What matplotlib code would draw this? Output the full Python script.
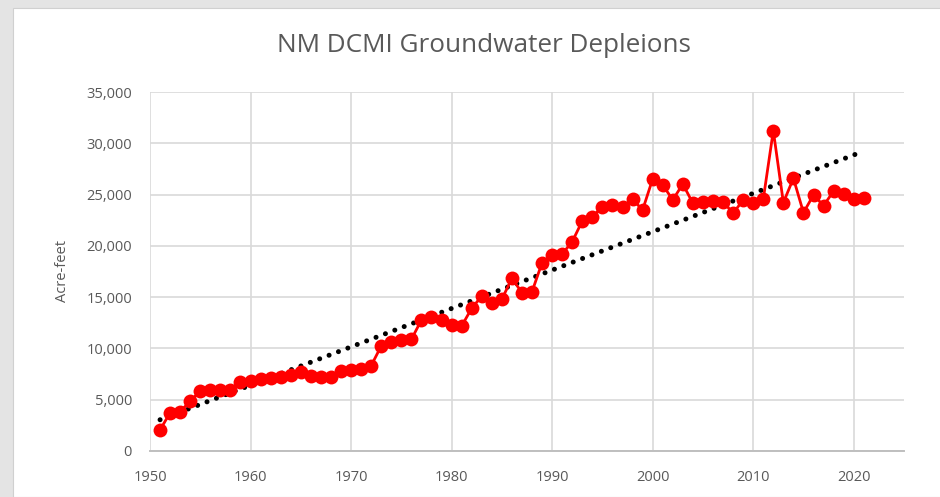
import numpy as np
import matplotlib
matplotlib.use('Agg')
import matplotlib.pyplot as plt
from matplotlib.patches import Rectangle
from matplotlib.ticker import FuncFormatter, MultipleLocator

# annual depletions, acre-feet
years = list(range(1951, 2022))
depletions = [
    2050, 3740, 3830, 4870, 5850, 5950, 5950, 5900, 6760, 6850,   # 1951-1960
    6990, 7150, 7250, 7400, 7730, 7310, 7180, 7180, 7830, 7900,   # 1961-1970
    8000, 8320, 10240, 10660, 10820, 10890, 12770, 13100, 12770, 12290,  # 1971-1980
    12190, 13910, 15110, 14400, 14800, 16840, 15430, 15530, 18360, 19110,  # 1981-1990
    19210, 20410, 22430, 22850, 23820, 23990, 23820, 24540, 23500, 26520,  # 1991-2000
    25940, 24480, 26030, 24150, 24250, 24380, 24310, 23180, 24470, 24150,  # 2001-2010
    24540, 31230, 24210, 26590, 23240, 24960, 23920, 25350, 25060, 24600,  # 2011-2020
    24670,                                                         # 2021
]

title = 'NM DCMI Groundwater Depleions'
ylabel = 'Acre-feet'
text_color = '#595959'

fig = plt.figure(figsize=(9.4, 4.97), dpi=100, facecolor='#e4e4e4')
fig.patches.append(Rectangle((13 / 940, 0), 1, 1 - 8 / 497, transform=fig.transFigure,
                             facecolor='white', edgecolor='#d0d0d0', lw=0.8, zorder=-10))

ax = fig.add_axes([150 / 940, 1 - 451 / 497, 754 / 940, 359 / 497])
ax.set_facecolor('none')

x = np.array(years)
y = np.array(depletions)

# linear trend through the series
slope, intercept = np.polyfit(x, y, 1)
ax.plot(x, slope * x + intercept, color='black', lw=3.6,
        linestyle=(0, (0.01, 2.0)), dash_capstyle='round', zorder=2)

ax.plot(x, y, color='#ff0000', lw=2, marker='o', markersize=10,
        markeredgewidth=0, zorder=3)

ax.set_xlim(1950, 2025)
ax.set_ylim(0, 35000)
ax.xaxis.set_major_locator(MultipleLocator(10))
ax.yaxis.set_major_locator(MultipleLocator(5000))
ax.yaxis.set_major_formatter(FuncFormatter(lambda v, p: f'{int(v):,}'))

ax.grid(True, color='#d9d9d9', lw=1.2)
ax.set_axisbelow(True)
for s in ['top', 'right', 'left']:
    ax.spines[s].set_visible(False)
ax.spines['bottom'].set_color('#bfbfbf')
ax.spines['bottom'].set_linewidth(1.4)
ax.tick_params(length=0, labelsize=10.5, labelcolor=text_color)
ax.tick_params(axis='y', pad=13)
ax.tick_params(axis='x', pad=14)
for lbl in ax.get_xticklabels() + ax.get_yticklabels():
    lbl.set_fontfamily('Open Sans')

ax.set_ylabel(ylabel, fontsize=10.5, color=text_color, family='Open Sans', labelpad=12)
fig.text(484 / 940, 1 - 46 / 497, title, ha='center', va='center',
         fontsize=18.8, color=text_color, family='Open Sans')

fig.savefig('out.png', dpi=100, facecolor=fig.get_facecolor())
